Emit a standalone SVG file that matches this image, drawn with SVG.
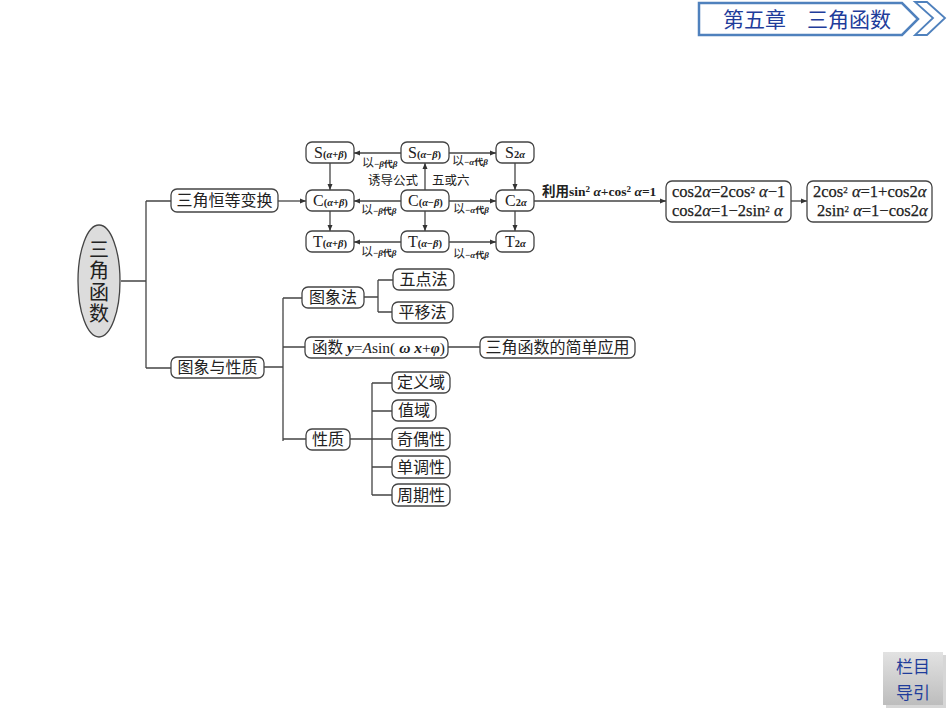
<svg xmlns="http://www.w3.org/2000/svg" width="950" height="713" viewBox="0 0 950 713">
<style>
text{font-family:"Liberation Serif","Noto Sans CJK SC",serif;fill:#222}
.b{fill:#fff;stroke:#444;stroke-width:1.3}
.c{fill:none;stroke:#444;stroke-width:1.3}
.cn{font-size:16px;text-anchor:middle}
.n{font-size:16px}
.sub{font-size:10.500px;font-weight:bold}
.lab{font-size:12px}
.labs{font-size:9px;font-weight:bold}
.f{font-size:16.500px;stroke:#222;stroke-width:0.25}
.i{font-style:italic}
.sup{font-size:9px}
.root{font-size:20px;text-anchor:middle}
.nav{font-size:17px;fill:#1f3d9b;text-anchor:middle;font-family:"Noto Sans CJK SC",sans-serif}
</style>
<defs>
<marker id="a" markerWidth="7" markerHeight="6" refX="6" refY="3" orient="auto" markerUnits="userSpaceOnUse"><path d="M0 0.5L6 3L0 5.5Z" fill="#333"/></marker>
<linearGradient id="g" x1="0" y1="0" x2="0" y2="1"><stop offset="0" stop-color="#e2e2e2"/><stop offset="1" stop-color="#bdbdbd"/></linearGradient>
</defs>
<rect width="950" height="713" fill="#fff"/>
<g id="header">
<path d="M699 3H902L918 19L902 35H699Z" fill="#fff" stroke="#4f81bd" stroke-width="2.5"/>
<path d="M915 2H927L945 18L927 35H915L933 18Z" fill="#fff" stroke="#4f81bd" stroke-width="1.8"/>
<text x="723" y="27" style="font-size:21px;fill:#1f3d9b">第五章</text>
<text x="807" y="27" style="font-size:21px;fill:#1f3d9b">三角函数</text>
</g>
<g id="connectors">
<path class="c" d="M121 281H146M146 201V368M146 201H171M146 368H171M264 367H283M283 298V441M283 298H302M283 347H305M283 439H306M364 297H378M378 280V312M378 280H393M378 312H392M448 347H480M350 439H392M372 383V495M372 383H392M372 411H392M372 467H392M372 495H392"/>
<path class="c" marker-end="url(#a)" d="M278 201H306"/>
<path class="c" marker-end="url(#a)" d="M401 153H354"/>
<path class="c" marker-end="url(#a)" d="M449 153H496"/>
<path class="c" marker-end="url(#a)" d="M401 201H354"/>
<path class="c" marker-end="url(#a)" d="M449 201H496"/>
<path class="c" marker-end="url(#a)" d="M401 242H354"/>
<path class="c" marker-end="url(#a)" d="M449 242H496"/>
<path class="c" marker-end="url(#a)" d="M330 163V190"/>
<path class="c" marker-end="url(#a)" d="M330 211V231"/>
<path class="c" marker-end="url(#a)" d="M425 190V163"/>
<path class="c" marker-end="url(#a)" d="M425 211V231"/>
<path class="c" marker-end="url(#a)" d="M515 163V190"/>
<path class="c" marker-end="url(#a)" d="M515 211V231"/>
<path class="c" marker-end="url(#a)" d="M534 201H666"/>
<path class="c" marker-end="url(#a)" d="M791 201H807"/>
</g>
<g id="edge-labels">
<text x="362" y="167" class="lab">以<tspan class="labs">−<tspan class="i">β</tspan>代<tspan class="i">β</tspan></tspan></text>
<text x="452" y="165" class="lab">以<tspan class="labs">−<tspan class="i">α</tspan>代<tspan class="i">β</tspan></tspan></text>
<text x="361" y="214" class="lab">以<tspan class="labs">−<tspan class="i">β</tspan>代<tspan class="i">β</tspan></tspan></text>
<text x="453" y="213" class="lab">以<tspan class="labs">−<tspan class="i">α</tspan>代<tspan class="i">β</tspan></tspan></text>
<text x="361" y="256" class="lab">以<tspan class="labs">−<tspan class="i">β</tspan>代<tspan class="i">β</tspan></tspan></text>
<text x="453" y="258" class="lab">以<tspan class="labs">−<tspan class="i">α</tspan>代<tspan class="i">β</tspan></tspan></text>
<text x="368" y="185" style="font-size:12.5px">诱导公式</text>
<text x="432" y="185" style="font-size:12.5px">五或六</text>
<text x="542" y="196" style="font-size:13.5px;font-weight:bold">利用sin<tspan class="sup" dy="-4">2</tspan><tspan class="i" dy="4"> α</tspan>+cos<tspan class="sup" dy="-4">2</tspan><tspan class="i" dy="4"> α</tspan>=1</text>
</g>
<g id="n-root"><ellipse cx="99" cy="281" rx="21" ry="56" fill="#dcdcdc" stroke="#444" stroke-width="1.3"/>
<text x="99" y="257" class="root">三</text><text x="99" y="278" class="root">角</text><text x="99" y="300" class="root">函</text><text x="99" y="321" class="root">数</text></g>
<g id="n-hdbh"><rect class="b" x="171" y="189" width="107" height="23" rx="6"/><text class="cn" x="224.500" y="206">三角恒等变换</text></g>
<g id="n-txyxz"><rect class="b" x="171" y="357" width="93" height="21" rx="6"/><text class="cn" x="217.500" y="373">图象与性质</text></g>
<g id="n-sp"><rect class="b" x="306" y="142" width="48" height="21" rx="6"/><text x="314" y="158" class="n">S<tspan class="sub">(<tspan class="i">α</tspan>+<tspan class="i">β</tspan>)</tspan></text></g>
<g id="n-sm"><rect class="b" x="401" y="142" width="48" height="21" rx="6"/><text x="408" y="158" class="n">S<tspan class="sub">(<tspan class="i">α</tspan>−<tspan class="i">β</tspan>)</tspan></text></g>
<g id="n-s2"><rect class="b" x="496" y="142" width="38" height="21" rx="6"/><text x="505" y="158" class="n">S<tspan class="sub">2<tspan class="i">α</tspan></tspan></text></g>
<g id="n-cp"><rect class="b" x="306" y="190" width="48" height="21" rx="6"/><text x="313" y="206" class="n">C<tspan class="sub">(<tspan class="i">α</tspan>+<tspan class="i">β</tspan>)</tspan></text></g>
<g id="n-cm"><rect class="b" x="401" y="190" width="48" height="21" rx="6"/><text x="408" y="206" class="n">C<tspan class="sub">(<tspan class="i">α</tspan>−<tspan class="i">β</tspan>)</tspan></text></g>
<g id="n-c2"><rect class="b" x="496" y="190" width="38" height="21" rx="6"/><text x="505" y="206" class="n">C<tspan class="sub">2<tspan class="i">α</tspan></tspan></text></g>
<g id="n-tp"><rect class="b" x="306" y="231" width="48" height="21" rx="6"/><text x="313" y="247" class="n">T<tspan class="sub">(<tspan class="i">α</tspan>+<tspan class="i">β</tspan>)</tspan></text></g>
<g id="n-tm"><rect class="b" x="401" y="231" width="48" height="21" rx="6"/><text x="408" y="247" class="n">T<tspan class="sub">(<tspan class="i">α</tspan>−<tspan class="i">β</tspan>)</tspan></text></g>
<g id="n-t2"><rect class="b" x="496" y="231" width="38" height="21" rx="6"/><text x="505" y="247" class="n">T<tspan class="sub">2<tspan class="i">α</tspan></tspan></text></g>
<g id="n-cos1"><rect class="b" x="666" y="181" width="125" height="41" rx="6"/>
<text class="f" x="672" y="197">cos2<tspan class="i">α</tspan>=2cos<tspan class="sup" dy="-4">2</tspan><tspan class="i" dy="4"> α</tspan>−1</text>
<text class="f" x="672" y="216">cos2<tspan class="i">α</tspan>=1−2sin<tspan class="sup" dy="-4">2</tspan><tspan class="i" dy="4"> α</tspan></text></g>
<g id="n-cos2"><rect class="b" x="807" y="181" width="125" height="41" rx="6"/>
<text class="f" x="813" y="197">2cos<tspan class="sup" dy="-4">2</tspan><tspan class="i" dy="4"> α</tspan>=1+cos2<tspan class="i">α</tspan></text>
<text class="f" x="817" y="216">2sin<tspan class="sup" dy="-4">2</tspan><tspan class="i" dy="4"> α</tspan>=1−cos2<tspan class="i">α</tspan></text></g>
<g id="n-txf"><rect class="b" x="302" y="287" width="62" height="21" rx="6"/><text class="cn" x="333" y="303">图象法</text></g>
<g id="n-wdf"><rect class="b" x="393" y="269" width="61" height="21" rx="6"/><text class="cn" x="423.500" y="285">五点法</text></g>
<g id="n-pyf"><rect class="b" x="392" y="302" width="61" height="21" rx="6"/><text class="cn" x="422.500" y="318">平移法</text></g>
<g id="n-func"><rect class="b" x="305" y="337" width="143" height="21" rx="6"/><text x="312" y="353" style="font-size:15.5px">函数 <tspan class="i" font-weight="bold">y</tspan>=<tspan class="i">A</tspan>sin( <tspan class="i" font-weight="bold">ω</tspan> <tspan class="i" font-weight="bold">x</tspan>+<tspan class="i" font-weight="bold">φ</tspan>)</text></g>
<g id="n-app"><rect class="b" x="480" y="337" width="155" height="21" rx="6"/><text class="cn" x="557.500" y="353">三角函数的简单应用</text></g>
<g id="n-xz"><rect class="b" x="306" y="429" width="44" height="21" rx="6"/><text class="cn" x="328" y="445">性质</text></g>
<g id="n-dyy"><rect class="b" x="392" y="372" width="58" height="21" rx="6"/><text class="cn" x="421" y="388">定义域</text></g>
<g id="n-zy"><rect class="b" x="392" y="400" width="44" height="21" rx="6"/><text class="cn" x="414" y="416">值域</text></g>
<g id="n-jox"><rect class="b" x="392" y="428" width="58" height="22" rx="6"/><text class="cn" x="421" y="445">奇偶性</text></g>
<g id="n-ddx"><rect class="b" x="392" y="456" width="58" height="22" rx="6"/><text class="cn" x="421" y="473">单调性</text></g>
<g id="n-zqx"><rect class="b" x="392" y="484" width="58" height="22" rx="6"/><text class="cn" x="421" y="501">周期性</text></g>
<g id="nav"><rect x="886" y="655" width="60" height="53" fill="#999" opacity="0.4"/><rect x="883" y="652" width="60" height="53" fill="url(#g)"/>
<text x="913" y="673" class="nav">栏目</text>
<text x="913" y="699" class="nav">导引</text></g>
</svg>
